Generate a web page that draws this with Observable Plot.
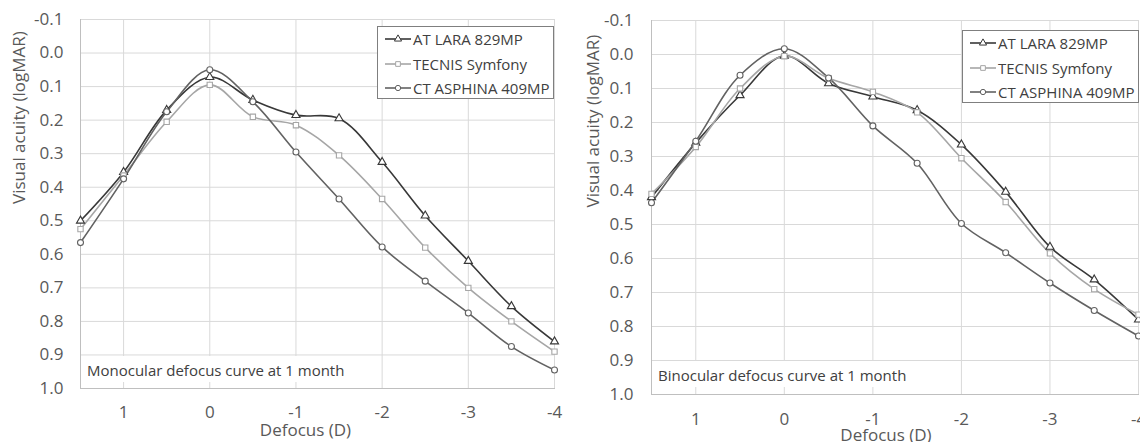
<!DOCTYPE html>
<html>
<head>
<meta charset="utf-8">
<script src="https://cdn.jsdelivr.net/npm/d3@7"></script>
<script src="https://cdn.jsdelivr.net/npm/@observablehq/plot@0.6"></script>
<style>
  html, body { margin: 0; padding: 0; background: #fff; }
  #wrap { position: relative; width: 1140px; height: 442px; overflow: hidden; display: flex; }
  .panel { position: relative; width: 570px; height: 442px; flex: none; }
  .panel svg { display: block; }
  .legend { position: absolute; background: #fff; border: 1px solid #7f7f7f; box-sizing: border-box;
            font-family: "Open Sans", sans-serif; font-size: 15px; color: #404040; }
  .legend .row { position: absolute; left: 0; display: flex; align-items: center; height: 20px; white-space: nowrap; }
  .legend svg { display: block; margin-right: 2px; }
  .note { position: absolute; background: #fff; font-family: "Open Sans", sans-serif; font-size: 15px; color: #404040;
          white-space: nowrap; line-height: 20px; }
</style>
</head>
<body>
<div id="wrap"></div>
<script>
// ---- data ----
const defocus = [1.5, 1, 0.5, 0, -0.5, -1, -1.5, -2, -2.5, -3, -3.5, -4];
const xTicks = [1, 0, -1, -2, -3, -4];
const yTicks = [-0.1, 0.0, 0.1, 0.2, 0.3, 0.4, 0.5, 0.6, 0.7, 0.8, 0.9, 1.0];
const seriesNames = ["AT LARA 829MP", "TECNIS Symfony", "CT ASPHINA 409MP"];
const seriesColors = ["#383838", "#a6a6a6", "#626262"];
const seriesSymbols = ["triangle", "square", "circle"];

const monoATLARA  = [0.50, 0.355, 0.17, 0.072, 0.14, 0.185, 0.195, 0.325, 0.485, 0.62, 0.755, 0.86];
const monoTECNIS  = [0.525, 0.365, 0.205, 0.095, 0.19, 0.215, 0.305, 0.435, 0.58, 0.70, 0.80, 0.89];
const monoCT      = [0.565, 0.375, 0.175, 0.05, 0.145, 0.295, 0.435, 0.578, 0.68, 0.775, 0.875, 0.945];

const binoATLARA  = [0.42, 0.26, 0.12, 0.004, 0.085, 0.124, 0.164, 0.265, 0.404, 0.566, 0.662, 0.78];
const binoTECNIS  = [0.41, 0.272, 0.10, 0.005, 0.07, 0.11, 0.17, 0.305, 0.434, 0.585, 0.69, 0.765];
const binoCT      = [0.436, 0.255, 0.061, -0.017, 0.069, 0.21, 0.32, 0.497, 0.583, 0.672, 0.753, 0.828];

const monoTitle = "Monocular defocus curve at 1 month";
const binoTitle = "Binocular defocus curve at 1 month";
const xLabel = "Defocus (D)";
const yLabel = "Visual acuity (logMAR)";

function rows(lists) {
  const out = [];
  lists.forEach((vals, i) => vals.forEach((v, j) => out.push({series: seriesNames[i], x: defocus[j], y: v})));
  return out;
}

function panel(data, cfg) {
  return Plot.plot({
    width: 570, height: 442,
    marginTop: cfg.mt, marginBottom: cfg.mb, marginLeft: cfg.ml, marginRight: cfg.mr,
    style: {fontFamily: "'Open Sans', sans-serif", fontSize: "17px", color: "#595959", background: "white", overflow: "visible"},
    x: {domain: [1.5, -4], label: null},
    y: {domain: [-0.1, 1.0], reverse: true, label: null},
    color: {domain: seriesNames, range: seriesColors},
    symbol: {domain: seriesNames, range: seriesSymbols},
    marks: [
      Plot.gridX(xTicks, {stroke: "#d9d9d9", strokeOpacity: 1, strokeWidth: 1}),
      Plot.gridY(yTicks, {stroke: "#d9d9d9", strokeOpacity: 1, strokeWidth: 1}),
      Plot.frame({anchor: "left", stroke: "#bfbfbf", strokeOpacity: 1}),
      Plot.frame({anchor: "bottom", stroke: "#bfbfbf", strokeOpacity: 1}),
      Plot.line(data, {x: "x", y: "y", z: "series", stroke: "series", curve: "catmull-rom", strokeWidth: 1.6}),
      Plot.dot(data, {x: "x", y: "y", symbol: "series", stroke: "series", fill: "white", r: 3, strokeWidth: 1.1}),
      Plot.axisX(xTicks, {tickSize: 0, tickPadding: cfg.xpad, tickFormat: d => String(d), label: null, fontSize: 17}),
      Plot.axisY(yTicks, {tickSize: 0, tickPadding: cfg.ypad, tickFormat: d => d.toFixed(1), label: null, fontSize: 17}),
      Plot.text([xLabel], {frameAnchor: "bottom", dy: cfg.xlabDy, dx: cfg.xlabDx, fill: "#595959", fontSize: 17}),
      Plot.text([yLabel], {frameAnchor: "left", rotate: -90, dx: cfg.ylabDx, fill: "#595959", fontSize: 17})
    ]
  });
}

function legendBox(parent, left, top) {
  const box = document.createElement("div");
  box.className = "legend";
  Object.assign(box.style, {left: left + "px", top: top + "px", width: "177px", height: "73px"});
  seriesNames.forEach((name, i) => {
    const row = document.createElement("div");
    row.className = "row";
    row.style.top = (2 + i * 24.5) + "px";
    row.style.left = "7px";
    const svg = d3.create("svg").attr("width", 26).attr("height", 20);
    svg.append("line").attr("x1", 0).attr("x2", 26).attr("y1", 10).attr("y2", 10)
      .attr("stroke", seriesColors[i]).attr("stroke-width", 1.6);
    const sym = {triangle: d3.symbolTriangle, square: d3.symbolSquare, circle: d3.symbolCircle}[seriesSymbols[i]];
    svg.append("path").attr("d", d3.symbol(sym, 22)()).attr("transform", "translate(13,10)")
      .attr("fill", "white").attr("stroke", seriesColors[i]).attr("stroke-width", 1);
    row.appendChild(svg.node());
    const span = document.createElement("span");
    span.textContent = name;
    row.appendChild(span);
    box.appendChild(row);
  });
  parent.appendChild(box);
}

function note(parent, text, left, top, width) {
  const d = document.createElement("div");
  d.className = "note";
  d.textContent = text;
  Object.assign(d.style, {left: left + "px", top: top + "px", width: width + "px", height: "26px", paddingLeft: "6px", paddingTop: "4px", boxSizing: "border-box"});
  parent.appendChild(d);
}

const wrap = document.getElementById("wrap");

const p1 = document.createElement("div"); p1.className = "panel"; wrap.appendChild(p1);
p1.appendChild(panel(rows([monoATLARA, monoTECNIS, monoCT]),
  {mt: 19, mb: 54, ml: 80, mr: 16, xpad: 17, ypad: 17, xlabDy: 47, xlabDx: -12, ylabDx: -61}));
note(p1, monoTitle, 81, 356, 270);
legendBox(p1, 377, 26);

const p2 = document.createElement("div"); p2.className = "panel"; wrap.appendChild(p2);
p2.appendChild(panel(rows([binoATLARA, binoTECNIS, binoCT]),
  {mt: 20, mb: 48, ml: 81, mr: 2, xpad: 18, ypad: 18, xlabDy: 46, xlabDx: -9, ylabDx: -58}));
note(p2, binoTitle, 82, 361, 272);
legendBox(p2, 392, 30);
</script>
</body>
</html>
